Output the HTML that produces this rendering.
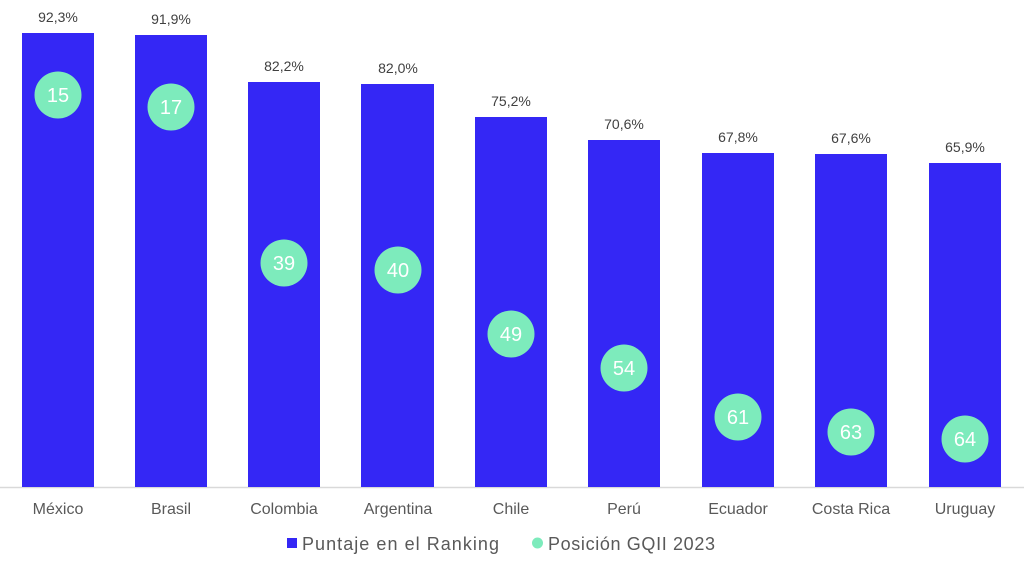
<!DOCTYPE html>
<html><head><meta charset="utf-8"><style>
html,body{margin:0;padding:0;background:#fff;width:1024px;height:566px;overflow:hidden}
svg{display:block}
text{font-family:"Liberation Sans",sans-serif}
</style></head><body>
<svg width="1024" height="566" viewBox="0 0 1024 566" xmlns="http://www.w3.org/2000/svg">
<line x1="0" y1="487.5" x2="1024" y2="487.5" stroke="#d9d9d9" stroke-width="1.5"/>
<g fill="#3427F5">
<rect x="22" y="33" width="72" height="454"/>
<rect x="135" y="35" width="72" height="452"/>
<rect x="248" y="82" width="72" height="405"/>
<rect x="361" y="84" width="73" height="403"/>
<rect x="475" y="117" width="72" height="370"/>
<rect x="588" y="140" width="72" height="347"/>
<rect x="702" y="153" width="72" height="334"/>
<rect x="815" y="154" width="72" height="333"/>
<rect x="929" y="163" width="72" height="324"/>
</g>
<g font-size="14" fill="#404040" text-anchor="middle">
<text x="58" y="22">92,3%</text>
<text x="171" y="24">91,9%</text>
<text x="284" y="71">82,2%</text>
<text x="398" y="73">82,0%</text>
<text x="511" y="106">75,2%</text>
<text x="624" y="129">70,6%</text>
<text x="738" y="142">67,8%</text>
<text x="851" y="143">67,6%</text>
<text x="965" y="152">65,9%</text>
</g>
<g fill="#7DEBBC">
<circle cx="58" cy="95" r="23.5"/>
<circle cx="171" cy="107" r="23.5"/>
<circle cx="284" cy="263" r="23.5"/>
<circle cx="398" cy="270" r="23.5"/>
<circle cx="511" cy="334" r="23.5"/>
<circle cx="624" cy="368" r="23.5"/>
<circle cx="738" cy="417" r="23.5"/>
<circle cx="851" cy="432" r="23.5"/>
<circle cx="965" cy="439" r="23.5"/>
</g>
<g font-size="20" fill="#ffffff" text-anchor="middle">
<text x="58" y="102">15</text>
<text x="171" y="114">17</text>
<text x="284" y="270">39</text>
<text x="398" y="277">40</text>
<text x="511" y="341">49</text>
<text x="624" y="375">54</text>
<text x="738" y="424">61</text>
<text x="851" y="439">63</text>
<text x="965" y="446">64</text>
</g>
<g font-size="16" fill="#595959" text-anchor="middle">
<text x="58" y="514">México</text>
<text x="171" y="514">Brasil</text>
<text x="284" y="514">Colombia</text>
<text x="398" y="514">Argentina</text>
<text x="511" y="514">Chile</text>
<text x="624" y="514">Perú</text>
<text x="738" y="514">Ecuador</text>
<text x="851" y="514">Costa Rica</text>
<text x="965" y="514">Uruguay</text>
</g>
<rect x="287" y="538" width="10" height="10" fill="#3427F5"/>
<text x="302" y="550" font-size="18" fill="#595959" textLength="197">Puntaje en el Ranking</text>
<circle cx="537.5" cy="543" r="5.5" fill="#7DEBBC"/>
<text x="548" y="550" font-size="18" fill="#595959" textLength="167">Posición GQII 2023</text>
</svg>
</body></html>
